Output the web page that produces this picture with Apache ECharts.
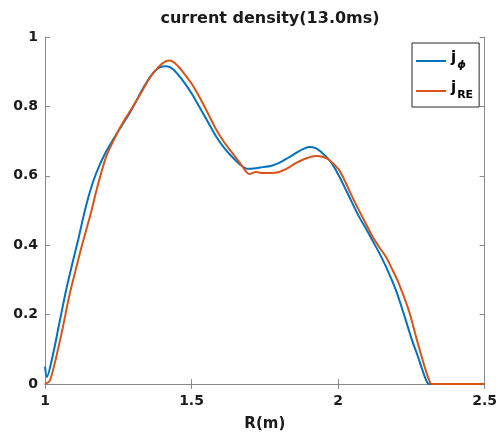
<!DOCTYPE html>
<html>
<head>
<meta charset="utf-8">
<script src="https://cdn.jsdelivr.net/npm/echarts@6/dist/echarts.min.js"></script>
<style>
  html, body { margin: 0; padding: 0; background: #fff; }
  #main { width: 500px; height: 440px; }
</style>
</head>
<body>
<div id="main"></div>
<script>
// j_phi (blue)
const rPhi = [1.000, 1.006, 1.028, 1.050, 1.074, 1.097, 1.113, 1.130, 1.147, 1.165, 1.187, 1.210, 1.233, 1.260, 1.289, 1.318, 1.347, 1.375, 1.400, 1.415, 1.436, 1.469, 1.500, 1.527, 1.556, 1.585, 1.612, 1.639, 1.665, 1.691, 1.720, 1.743, 1.770, 1.799, 1.830, 1.857, 1.880, 1.901, 1.925, 1.946, 1.965, 1.980, 2.003, 2.027, 2.050, 2.071, 2.095, 2.116, 2.139, 2.163, 2.197, 2.225, 2.252, 2.270, 2.286, 2.300, 2.310, 2.400, 2.500];
const jPhi = [0.050, 0.020, 0.088, 0.180, 0.278, 0.360, 0.415, 0.478, 0.535, 0.585, 0.632, 0.672, 0.705, 0.742, 0.781, 0.826, 0.870, 0.902, 0.915, 0.916, 0.908, 0.876, 0.838, 0.798, 0.755, 0.712, 0.680, 0.654, 0.633, 0.620, 0.622, 0.625, 0.628, 0.637, 0.652, 0.666, 0.677, 0.683, 0.679, 0.666, 0.650, 0.634, 0.600, 0.559, 0.519, 0.483, 0.448, 0.416, 0.380, 0.339, 0.271, 0.200, 0.127, 0.085, 0.045, 0.012, 0.0, 0.0, 0.0];
// j_RE (orange)
const rRE = [1.000, 1.017, 1.051, 1.085, 1.105, 1.125, 1.142, 1.159, 1.176, 1.193, 1.210, 1.233, 1.265, 1.299, 1.330, 1.357, 1.390, 1.410, 1.425, 1.440, 1.455, 1.469, 1.500, 1.527, 1.556, 1.585, 1.612, 1.639, 1.668, 1.697, 1.720, 1.743, 1.770, 1.799, 1.830, 1.857, 1.890, 1.925, 1.950, 1.969, 2.003, 2.025, 2.048, 2.071, 2.095, 2.116, 2.140, 2.163, 2.185, 2.207, 2.241, 2.269, 2.290, 2.307, 2.320, 2.400, 2.500];
const jRE = [0.000, 0.010, 0.125, 0.262, 0.330, 0.396, 0.448, 0.501, 0.560, 0.612, 0.658, 0.700, 0.752, 0.798, 0.842, 0.882, 0.916, 0.929, 0.932, 0.927, 0.915, 0.901, 0.866, 0.827, 0.780, 0.732, 0.696, 0.666, 0.634, 0.605, 0.611, 0.608, 0.608, 0.611, 0.623, 0.637, 0.650, 0.657, 0.654, 0.646, 0.617, 0.582, 0.540, 0.501, 0.462, 0.427, 0.395, 0.367, 0.330, 0.290, 0.213, 0.127, 0.065, 0.020, 0.0, 0.0, 0.0];

const xTicks = [1, 1.5, 2, 2.5];
const yTicks = [0, 0.2, 0.4, 0.6, 0.8, 1];

const font = '"DejaVu Sans", sans-serif';
const axisColor = "#8a8a8a";

const pairs = (xs, ys) => xs.map((x, i) => [x, ys[i]]);

let myChart = echarts.init(document.getElementById("main"));
let option = {
  animation: false,
  title: {
    text: "current density(13.0ms)",
    left: 265,
    textAlign: "center",
    top: 6,
    textStyle: { fontFamily: font, fontWeight: "bold", fontSize: 16, color: "#1a1a1a" },
  },
  legend: {
    orient: "vertical",
    left: 412,
    top: 43,
    padding: [8, 6, 6, 4],
    itemGap: 10,
    itemWidth: 30,
    itemHeight: 2,
    icon: "rect",
    borderColor: "#262626",
    borderWidth: 1,
    data: ["jphi", "jRE"],
    formatter: (name) => (name === "jphi" ? "{m|j}{p|ϕ}" : "{m|j}{s|RE}"),
    textStyle: {
      fontFamily: font,
      color: "#000",
      rich: {
        m: { fontFamily: font, fontWeight: "bold", fontSize: 15, color: "#000", verticalAlign: "top" },
        p: { fontFamily: font, fontWeight: "bold", fontStyle: "italic", fontSize: 11, color: "#000", padding: [9, 0, 0, 1], verticalAlign: "bottom" },
        s: { fontFamily: font, fontWeight: "bold", fontSize: 11, color: "#000", padding: [9, 0, 0, 1], verticalAlign: "bottom" },
      },
    },
  },
  grid: { left: 45, right: 14, top: 37, bottom: 56 },
  xAxis: [
    {
      type: "value",
      min: xTicks[0],
      max: xTicks[xTicks.length - 1],
      interval: 0.5,
      position: "bottom",
      name: "R(m)",
      nameLocation: "middle",
      nameGap: 33,
      nameTextStyle: { fontFamily: font, fontWeight: "bold", fontSize: 15, color: "#1a1a1a" },
      axisLine: { lineStyle: { color: axisColor, width: 1 } },
      axisTick: { inside: true, length: 5, lineStyle: { color: axisColor } },
      splitLine: { show: false },
      axisLabel: { margin: 10, fontFamily: font, fontWeight: "bold", fontSize: 14, color: "#1a1a1a" },
    },
    {
      type: "value",
      min: xTicks[0],
      max: xTicks[xTicks.length - 1],
      interval: 0.5,
      position: "top",
      axisLine: { lineStyle: { color: axisColor, width: 1 } },
      axisTick: { inside: true, length: 5, lineStyle: { color: axisColor } },
      splitLine: { show: false },
      axisLabel: { show: false },
    },
  ],
  yAxis: [
    {
      type: "value",
      min: yTicks[0],
      max: yTicks[yTicks.length - 1],
      interval: 0.2,
      position: "left",
      axisLine: { show: true, lineStyle: { color: axisColor, width: 1 } },
      axisTick: { show: true, inside: true, length: 5, lineStyle: { color: axisColor } },
      splitLine: { show: false },
      axisLabel: { margin: 7, fontFamily: font, fontWeight: "bold", fontSize: 14, color: "#1a1a1a" },
    },
    {
      type: "value",
      min: yTicks[0],
      max: yTicks[yTicks.length - 1],
      interval: 0.2,
      position: "right",
      axisLine: { show: true, lineStyle: { color: axisColor, width: 1 } },
      axisTick: { show: true, inside: true, length: 5, lineStyle: { color: axisColor } },
      splitLine: { show: false },
      axisLabel: { show: false },
    },
  ],
  series: [
    {
      name: "jphi",
      type: "line",
      data: pairs(rPhi, jPhi),
      smooth: 0.3,
      symbol: "none",
      lineStyle: { color: "#0072BD", width: 2 },
      itemStyle: { color: "#0072BD" },
    },
    {
      name: "jRE",
      type: "line",
      data: pairs(rRE, jRE),
      smooth: 0.3,
      symbol: "none",
      lineStyle: { color: "#D95319", width: 2 },
      itemStyle: { color: "#D95319" },
    },
  ],
};
myChart.setOption(option);
</script>
</body>
</html>
